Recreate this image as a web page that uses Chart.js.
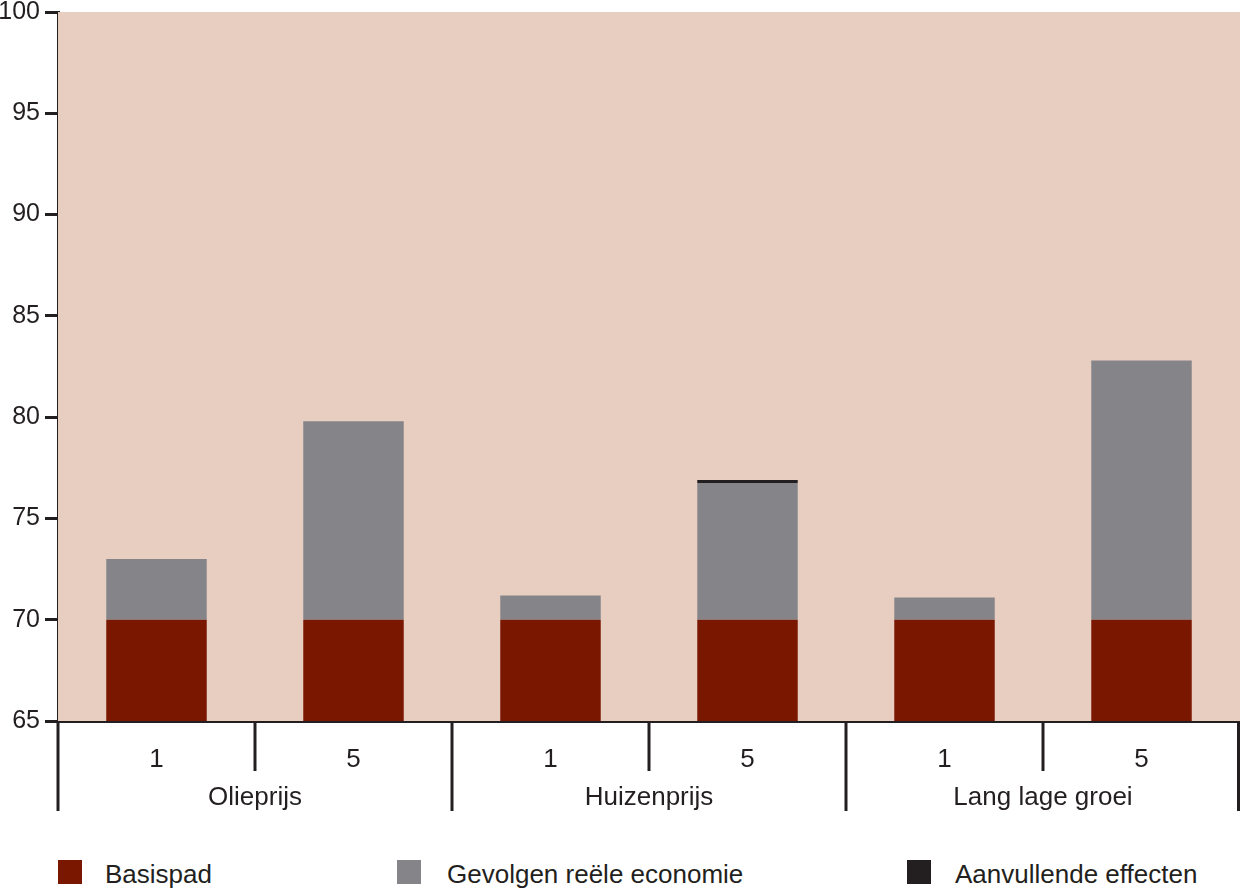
<!DOCTYPE html>
<html>
<head>
<meta charset="utf-8">
<script src="https://cdn.jsdelivr.net/npm/chart.js@4"></script>
<style>
  body { margin: 0; background: #fff; font-family: "Liberation Sans", Arial, sans-serif; }
  #wrap { position: relative; width: 1240px; height: 889px; overflow: hidden; }
  #chart { position: absolute; left: 0; top: -8px; }
  .leg { position: absolute; top: 860px; font-size: 26px; color: #231f20; }
  .leg i { position: absolute; left: 0; top: 0; width: 24px; height: 24px; }
  .leg span { position: absolute; top: -1px; white-space: nowrap; }
</style>
</head>
<body>
<div id="wrap">
  <canvas id="chart" width="1240" height="848"></canvas>
  <div class="leg" style="left:58px"><i style="background:#7a1700"></i><span style="left:47px">Basispad</span></div>
  <div class="leg" style="left:397px"><i style="background:#858589"></i><span style="left:50px">Gevolgen reële economie</span></div>
  <div class="leg" style="left:907px"><i style="background:#231f20"></i><span style="left:48px">Aanvullende effecten</span></div>
</div>
<script>
var years = ["1", "5", "1", "5", "1", "5"];
var groups = ["Olieprijs", "Huizenprijs", "Lang lage groei"];
var basispad = [70, 70, 70, 70, 70, 70];
var gevolgen = [3.0, 9.8, 1.2, 6.75, 1.1, 12.8];
var aanvullend = [0, 0, 0, 0.15, 0, 0];

var ink = '#231f20';
var font = { family: '"Liberation Sans", Arial, sans-serif', size: 26 };

// pink plot background + separator lines under the axis
var decor = {
    id: 'decor',
    beforeDatasetsDraw: function (chart) {
        var a = chart.chartArea, c = chart.ctx;
        c.save();
        c.fillStyle = '#e8cdc1';
        c.fillRect(a.left, a.top, a.right - a.left, a.bottom - a.top);
        c.restore();
    },
    afterDraw: function (chart) {
        var c = chart.ctx, x = chart.scales.x, a = chart.chartArea;
        c.save();
        c.strokeStyle = ink;
        c.lineWidth = 3;
        for (var i = 0; i <= years.length; i++) {
            var px = Math.round(x.getPixelForValue(i - 0.5));
            if (i === years.length) px = a.right - 1.5;
            c.beginPath();
            c.moveTo(px, a.bottom);
            c.lineTo(px, a.bottom + (i % 2 === 0 ? 90 : 50));
            c.stroke();
        }
        c.restore();
    }
};

new Chart(document.getElementById('chart'), {
    type: 'bar',
    data: {
        labels: years,
        datasets: [
            { label: 'Basispad', data: basispad, backgroundColor: '#7a1700' },
            { label: 'Gevolgen reële economie', data: gevolgen, backgroundColor: '#858589' },
            { label: 'Aanvullende effecten', data: aanvullend, backgroundColor: ink }
        ]
    },
    options: {
        responsive: false,
        animation: false,
        layout: { padding: { left: 0, right: 0, top: 0, bottom: 21 } },
        datasets: { bar: { categoryPercentage: 0.51, barPercentage: 1 } },
        plugins: { legend: { display: false }, tooltip: { enabled: false } },
        scales: {
            x: {
                stacked: true,
                grid: { display: false },
                border: { color: ink, width: 3 },
                ticks: { color: ink, font: font, padding: 15, maxRotation: 0 },
                afterFit: function (s) { s.height = 50; }
            },
            x2: {
                type: 'category',
                labels: groups,
                position: 'bottom',
                grid: { display: false },
                border: { display: false },
                ticks: { color: ink, font: font, padding: 3, maxRotation: 0 },
                afterFit: function (s) { s.height = 48; }
            },
            y: {
                stacked: true,
                min: 65,
                max: 100,
                grid: { drawOnChartArea: false, color: ink, lineWidth: 3, tickLength: 13 },
                border: { color: ink, width: 3 },
                ticks: { stepSize: 5, color: ink, font: { family: font.family, size: 25 }, padding: 5 },
                afterFit: function (s) { s.width = 58; }
            }
        }
    },
    plugins: [decor]
});
</script>
</body>
</html>
